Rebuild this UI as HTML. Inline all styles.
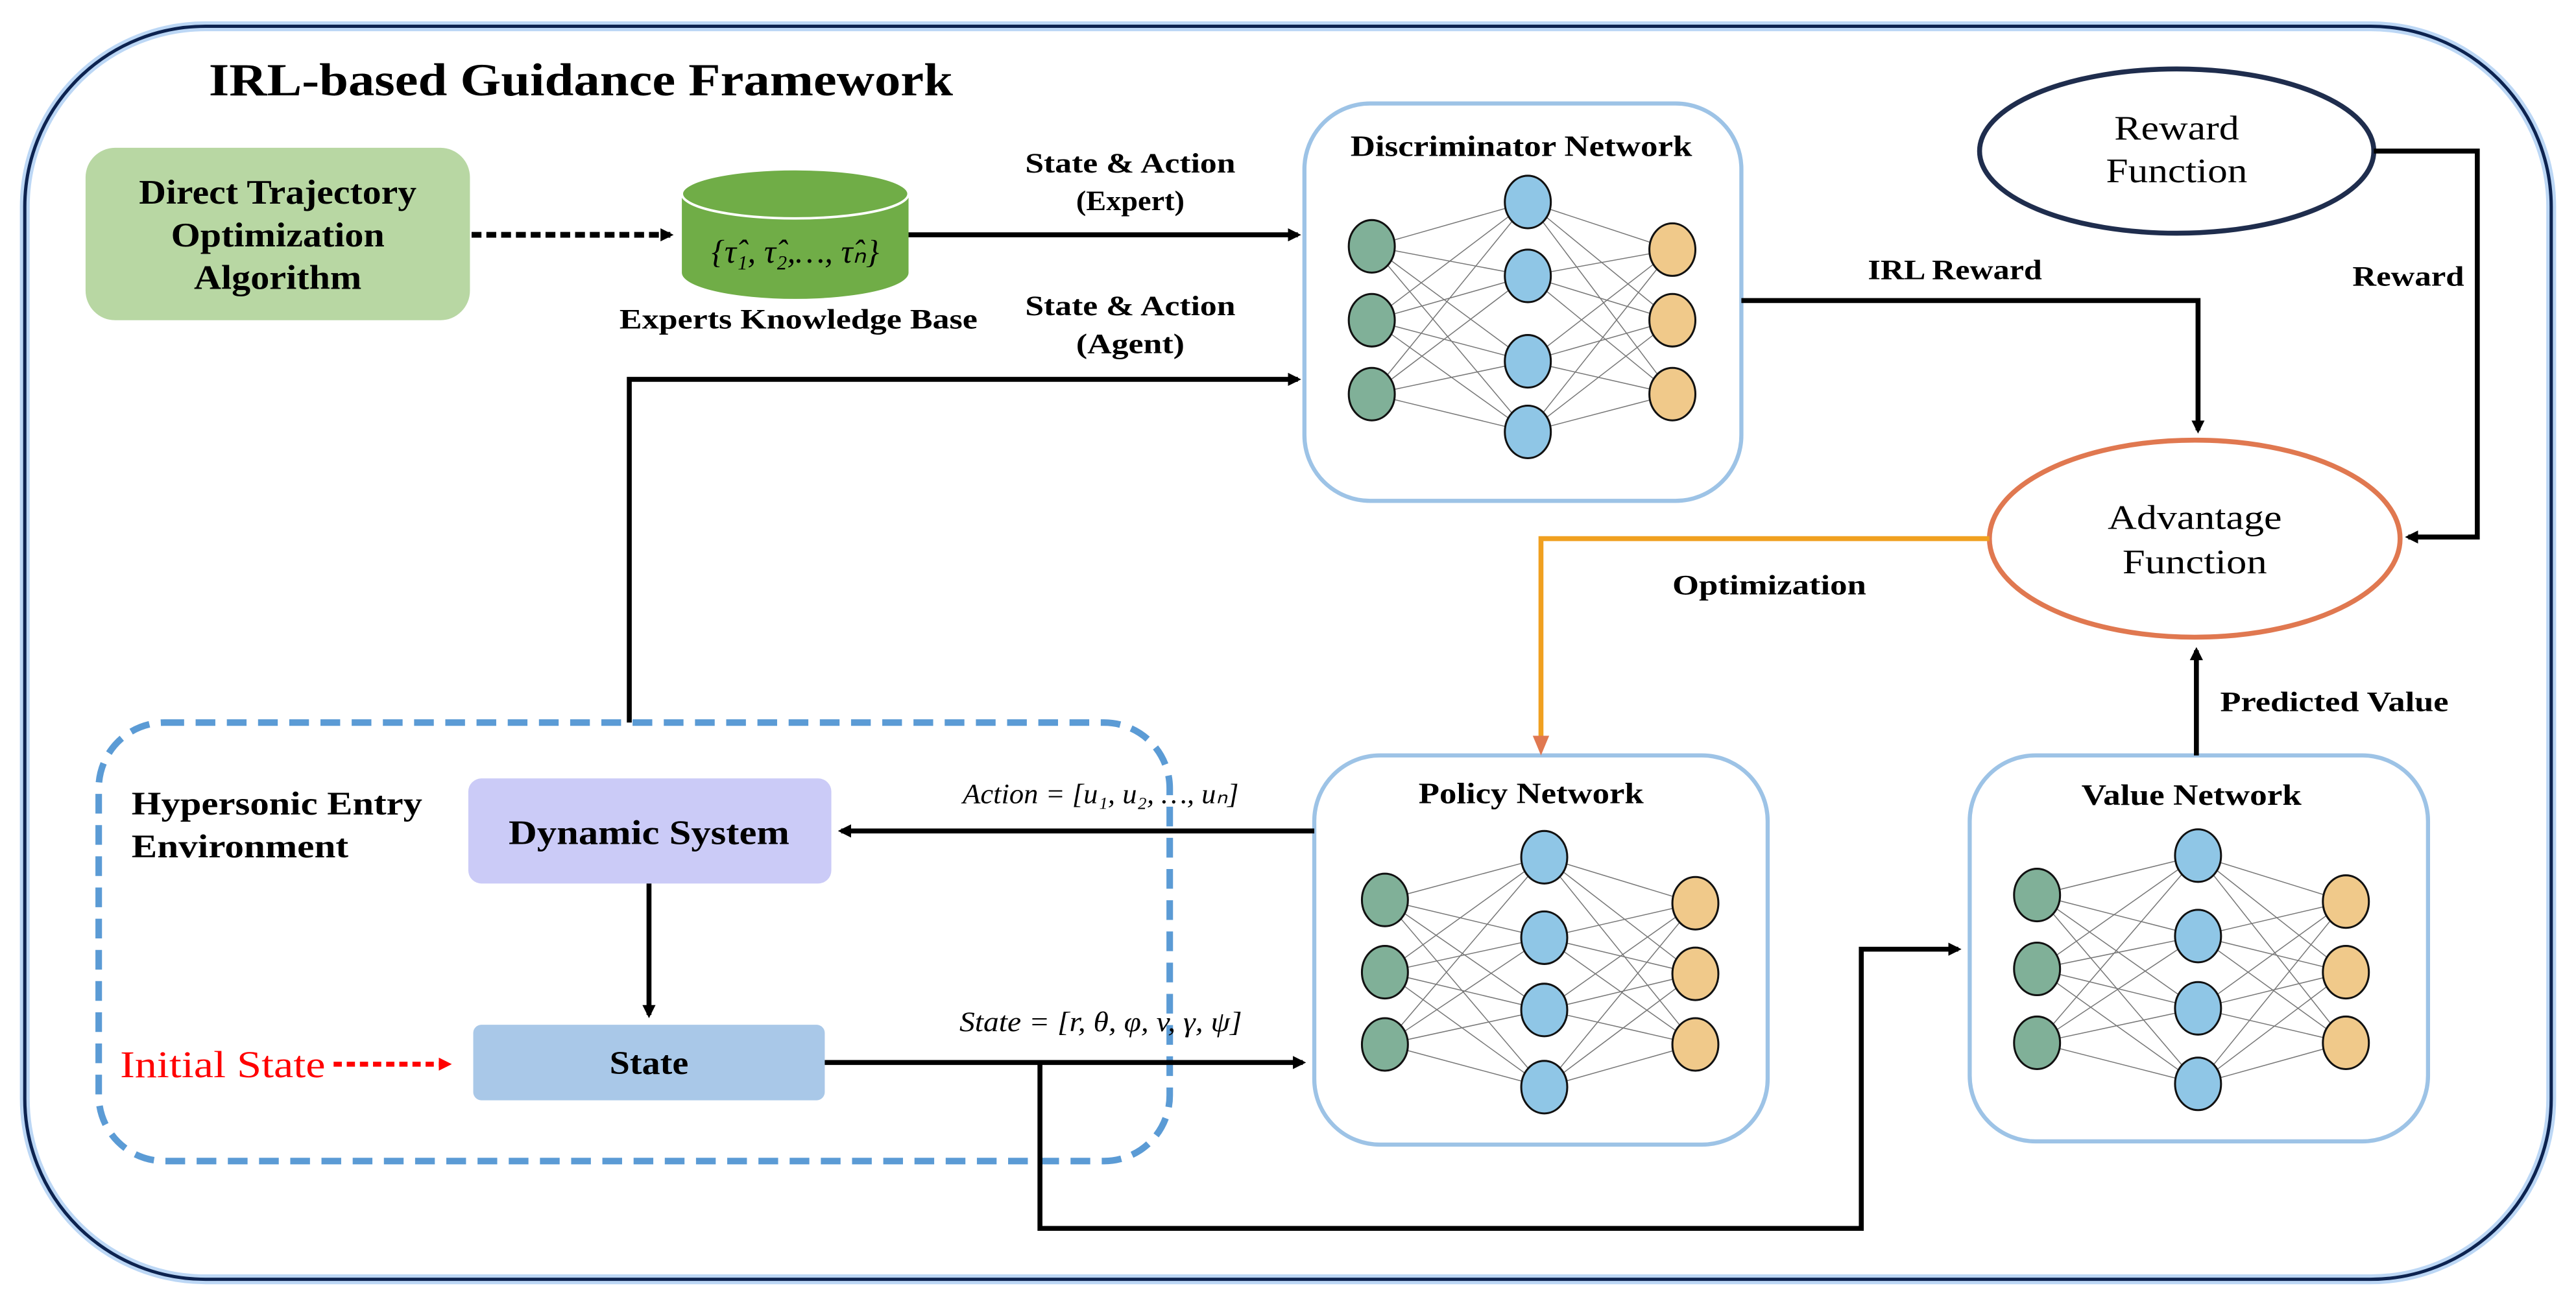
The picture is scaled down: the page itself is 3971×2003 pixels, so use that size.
<!DOCTYPE html>
<html><head><meta charset="utf-8"><style>
html,body{margin:0;padding:0;background:#fff;}
svg{display:block;}
text{font-family:"Liberation Serif",serif;}
.b{font-weight:bold;}
</style></head><body>
<svg id="s" width="3971" height="2003" viewBox="0 0 1568 791" xmlns="http://www.w3.org/2000/svg">
<defs>
<marker id="ak" markerWidth="8" markerHeight="8" refX="6" refY="4" orient="auto" markerUnits="userSpaceOnUse"><path d="M0,0 L8,4 L0,8 z" fill="#000"/></marker>
<marker id="ar" markerWidth="8" markerHeight="8" refX="6" refY="4" orient="auto" markerUnits="userSpaceOnUse"><path d="M0,0 L8,4 L0,8 z" fill="#f00"/></marker>
</defs>
<rect width="1568" height="791" fill="#fff"/>
<rect x="15" y="16" width="1538" height="763" rx="110" fill="none" stroke="#bcd7f5" stroke-width="6"/>
<rect x="15" y="16" width="1538" height="763" rx="110" fill="none" stroke="#0d2350" stroke-width="2"/>
<text x="127" y="58" font-size="28" class="b" textLength="453" lengthAdjust="spacingAndGlyphs">IRL-based Guidance Framework</text>

<rect x="52" y="90" width="234" height="105" rx="18" fill="#b8d7a3"/>
<text x="169" y="124" font-size="21" class="b" text-anchor="middle" textLength="169" lengthAdjust="spacingAndGlyphs">Direct Trajectory</text>
<text x="169" y="150" font-size="21" class="b" text-anchor="middle" textLength="130" lengthAdjust="spacingAndGlyphs">Optimization</text>
<text x="169" y="176" font-size="21" class="b" text-anchor="middle" textLength="102" lengthAdjust="spacingAndGlyphs">Algorithm</text>
<line x1="287" y1="143" x2="408" y2="143" stroke="#000" stroke-width="3.5" stroke-dasharray="6,3" marker-end="url(#ak)"/>

<path d="M415,118 L415,166 A69,16 0 0 0 553,166 L553,118 Z" fill="#70ad47"/>
<ellipse cx="484" cy="118" rx="69" ry="15" fill="#70ad47" stroke="#fff" stroke-width="1.5"/>
<text x="484" y="160" font-size="20" font-style="italic" text-anchor="middle">{τ̂₁, τ̂₂,…, τ̂ₙ}</text>
<text x="486" y="200" font-size="17" class="b" text-anchor="middle" textLength="218" lengthAdjust="spacingAndGlyphs">Experts Knowledge Base</text>
<line x1="553" y1="143" x2="790" y2="143" stroke="#000" stroke-width="3" marker-end="url(#ak)"/>
<text x="688" y="105" font-size="17" class="b" text-anchor="middle" textLength="128" lengthAdjust="spacingAndGlyphs">State &amp; Action</text>
<text x="688" y="128" font-size="17" class="b" text-anchor="middle" textLength="66" lengthAdjust="spacingAndGlyphs">(Expert)</text>
<text x="688" y="192" font-size="17" class="b" text-anchor="middle" textLength="128" lengthAdjust="spacingAndGlyphs">State &amp; Action</text>
<text x="688" y="215" font-size="17" class="b" text-anchor="middle" textLength="66" lengthAdjust="spacingAndGlyphs">(Agent)</text>
<polyline points="383,440 383,231 790,231" fill="none" stroke="#000" stroke-width="3" marker-end="url(#ak)"/>

<rect x="794" y="63" width="266" height="242" rx="40" fill="none" stroke="#9dc3e6" stroke-width="2.5"/>
<text x="926" y="95" font-size="18" class="b" text-anchor="middle" textLength="208" lengthAdjust="spacingAndGlyphs">Discriminator Network</text>
<rect x="800" y="460" width="276" height="237" rx="40" fill="none" stroke="#9dc3e6" stroke-width="2.5"/>
<text x="932" y="489" font-size="18" class="b" text-anchor="middle" textLength="137" lengthAdjust="spacingAndGlyphs">Policy Network</text>
<rect x="1199" y="460" width="279" height="235" rx="40" fill="none" stroke="#9dc3e6" stroke-width="2.5"/>
<text x="1334" y="490" font-size="18" class="b" text-anchor="middle" textLength="134" lengthAdjust="spacingAndGlyphs">Value Network</text>
<g id="nets"></g>

<polyline points="1060,183 1338,183 1338,262" fill="none" stroke="#000" stroke-width="3" marker-end="url(#ak)"/>
<text x="1190" y="170" font-size="17" class="b" text-anchor="middle" textLength="106" lengthAdjust="spacingAndGlyphs">IRL Reward</text>

<ellipse cx="1325" cy="92" rx="120" ry="50" fill="#fff" stroke="#1f2d4d" stroke-width="3"/>
<text x="1325" y="85" font-size="21" text-anchor="middle" textLength="76" lengthAdjust="spacingAndGlyphs">Reward</text>
<text x="1325" y="111" font-size="21" text-anchor="middle" textLength="86" lengthAdjust="spacingAndGlyphs">Function</text>
<polyline points="1445,92 1508,92 1508,327 1466,327" fill="none" stroke="#000" stroke-width="3" marker-end="url(#ak)"/>
<text x="1466" y="174" font-size="17" class="b" text-anchor="middle" textLength="68" lengthAdjust="spacingAndGlyphs">Reward</text>

<ellipse cx="1336" cy="328" rx="125" ry="60" fill="#fff" stroke="#e07850" stroke-width="3"/>
<text x="1336" y="322" font-size="21" text-anchor="middle" textLength="106" lengthAdjust="spacingAndGlyphs">Advantage</text>
<text x="1336" y="349" font-size="21" text-anchor="middle" textLength="88" lengthAdjust="spacingAndGlyphs">Function</text>
<polyline points="1211,328 938,328 938,452" fill="none" stroke="#f0a020" stroke-width="3"/>
<polygon points="933,448 943,448 938,460" fill="#e07850"/>
<text x="1077" y="362" font-size="17" class="b" text-anchor="middle" textLength="118" lengthAdjust="spacingAndGlyphs">Optimization</text>
<line x1="1337" y1="460" x2="1337" y2="396" stroke="#000" stroke-width="3" marker-end="url(#ak)"/>
<text x="1421" y="433" font-size="17" class="b" text-anchor="middle" textLength="139" lengthAdjust="spacingAndGlyphs">Predicted Value</text>

<rect x="60" y="440" width="652" height="267" rx="40" fill="none" stroke="#5b9bd5" stroke-width="4" stroke-dasharray="12,7"/>
<text x="80" y="496" font-size="20" class="b" textLength="177" lengthAdjust="spacingAndGlyphs">Hypersonic Entry</text>
<text x="80" y="522" font-size="20" class="b" textLength="132" lengthAdjust="spacingAndGlyphs">Environment</text>
<rect x="285" y="474" width="221" height="64" rx="8" fill="#cbcbf7"/>
<text x="395" y="514" font-size="21" class="b" text-anchor="middle" textLength="171" lengthAdjust="spacingAndGlyphs">Dynamic System</text>
<line x1="800" y1="506" x2="512" y2="506" stroke="#000" stroke-width="3" marker-end="url(#ak)"/>
<text x="670" y="489" font-size="17" font-style="italic" text-anchor="middle" textLength="168" lengthAdjust="spacingAndGlyphs">Action = [u₁, u₂, …, uₙ]</text>
<line x1="395" y1="538" x2="395" y2="618" stroke="#000" stroke-width="3" marker-end="url(#ak)"/>
<rect x="288" y="624" width="214" height="46" rx="5" fill="#a9c8e8"/>
<text x="395" y="654" font-size="20" class="b" text-anchor="middle" textLength="48" lengthAdjust="spacingAndGlyphs">State</text>
<text x="73" y="656" font-size="23" fill="#f00" textLength="125" lengthAdjust="spacingAndGlyphs">Initial State</text>
<line x1="203" y1="648" x2="273" y2="648" stroke="#f00" stroke-width="3" stroke-dasharray="5,3" marker-end="url(#ar)"/>
<line x1="502" y1="647" x2="793" y2="647" stroke="#000" stroke-width="3" marker-end="url(#ak)"/>
<text x="670" y="628" font-size="17" font-style="italic" text-anchor="middle" textLength="172" lengthAdjust="spacingAndGlyphs">State = [r, θ, φ, v, γ, ψ]</text>
<polyline points="633,647 633,748 1133,748 1133,578 1192,578" fill="none" stroke="#000" stroke-width="3" marker-end="url(#ak)"/>
</svg>
<script>
var nets=[
 {g:[835,[150,195,240]],b:[930,[123,168,220,263]],o:[1018,[152,195,240]]},
 {g:[843,[548,592,636]],b:[940,[522,571,615,662]],o:[1032,[550,593,636]]},
 {g:[1240,[545,590,635]],b:[1338,[521,570,614,660]],o:[1428,[549,592,635]]}
];
var G=document.getElementById("nets"),h="";
nets.forEach(function(n){
 n.g[1].forEach(function(y1){n.b[1].forEach(function(y2){h+='<line x1="'+n.g[0]+'" y1="'+y1+'" x2="'+n.b[0]+'" y2="'+y2+'" stroke="#777" stroke-width="0.6"/>';});});
 n.b[1].forEach(function(y1){n.o[1].forEach(function(y2){h+='<line x1="'+n.b[0]+'" y1="'+y1+'" x2="'+n.o[0]+'" y2="'+y2+'" stroke="#777" stroke-width="0.6"/>';});});
 [["g","#80b098"],["b","#8fc6e6"],["o","#f0c98a"]].forEach(function(c){n[c[0]][1].forEach(function(y){h+='<ellipse cx="'+n[c[0]][0]+'" cy="'+y+'" rx="14" ry="16" fill="'+c[1]+'" stroke="#111" stroke-width="1.2"/>';});});
});
G.innerHTML=h;
</script>
</body></html>
